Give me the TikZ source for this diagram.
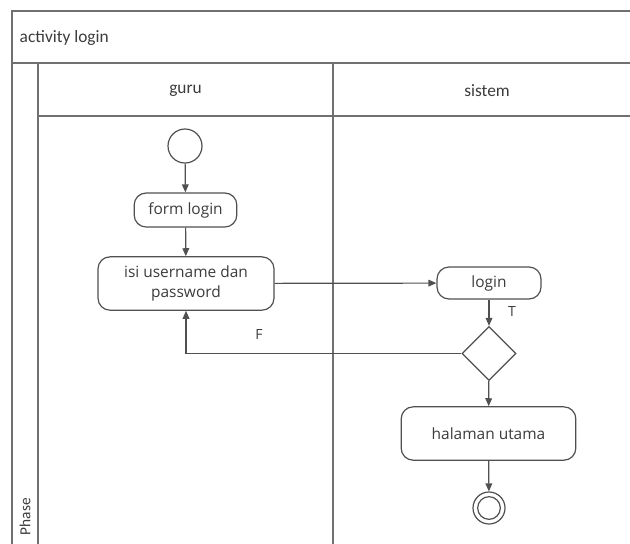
\documentclass[tikz,border=0pt]{standalone}
\usepackage{fontspec}
\setmainfont{Carlito}
\newfontfamily\nodefont{Open Sans}
\usetikzlibrary{arrows.meta,shapes.geometric}
\definecolor{frame}{HTML}{707070}
\definecolor{ink}{HTML}{505050}
\definecolor{txt}{HTML}{3c3c3c}
\tikzset{
  act/.style={draw=ink, line width=0.9pt, rounded corners=9pt, fill=white, align=center,
    font=\nodefont\fontsize{11.6}{14.5}\selectfont, text=txt, inner sep=0pt},
  flow/.style={draw=ink, line width=0.9pt, -{Triangle[length=6pt,width=5pt]}},
  lbl/.style={font=\nodefont\fontsize{10.5}{12}\selectfont, text=txt},
  lane/.style={draw=frame, line width=1pt},
  hdr/.style={font=\fontsize{13}{14}\selectfont, text=txt}
}
\begin{document}
\begin{tikzpicture}[x=0.75pt,y=-0.75pt]
\useasboundingbox (0,0) rectangle (630,543);
\fill[white] (0,0) rectangle (630,543);
\begin{scope}
\clip (0,0) rectangle (630,543);
% frame
\draw[lane] (12,548) -- (12,11) -- (640,11);
\draw[lane] (12,63) -- (640,63);
\draw[lane] (38,63) -- (38,548);
\draw[lane] (333,63) -- (333,548);
\draw[lane] (38,116) -- (640,116);
\end{scope}
\node[hdr, anchor=west] (title) at (15,38) {activity login};
\node[hdr] (guru) at (185.5,91) {guru};
\node[hdr] (sistem) at (487,91) {sistem};
\node[hdr, font=\fontsize{11.5}{12}\selectfont, rotate=90, anchor=west] (phase) at (25,540) {Phase};
% nodes
\node[draw=ink, line width=0.9pt, circle, minimum size=25.5pt, inner sep=0pt] (start) at (185,146) {};
\node[act, minimum width=77pt, minimum height=25.5pt] (form) at (185.5,210) {form login};
\node[act, minimum width=132pt, minimum height=40pt] (isi) at (186,283.5) {isi username dan\\password};
\node[act, minimum width=78pt, minimum height=24pt] (login) at (489,283) {login};
\node[draw=ink, line width=0.9pt, diamond, aspect=1, minimum width=40.5pt, minimum height=40.5pt, inner sep=0pt, fill=white] (dec) at (489,353.5) {};
\node[act, minimum width=131pt, minimum height=40pt] (hal) at (488.5,433.5) {halaman utama};
\node[draw=ink, line width=0.9pt, circle, minimum size=24pt, inner sep=0pt] (end) at (489,508) {};
\node[draw=ink, line width=0.9pt, circle, minimum size=17pt, inner sep=0pt] (endin) at (489,508) {};
% flows
\draw[flow] (start) -- (form);
\draw[flow] (form) -- (isi);
\draw[flow] (isi) -- (login);
\draw[flow] (login) -- (dec);
\draw[flow] (dec.west) -| (isi.south);
\draw[flow] (dec) -- (hal);
\draw[flow] (hal) -- (end);
\node[lbl] (tl) at (512,311) {T};
\node[lbl] (fl) at (259,334) {F};
\end{tikzpicture}
\end{document}
